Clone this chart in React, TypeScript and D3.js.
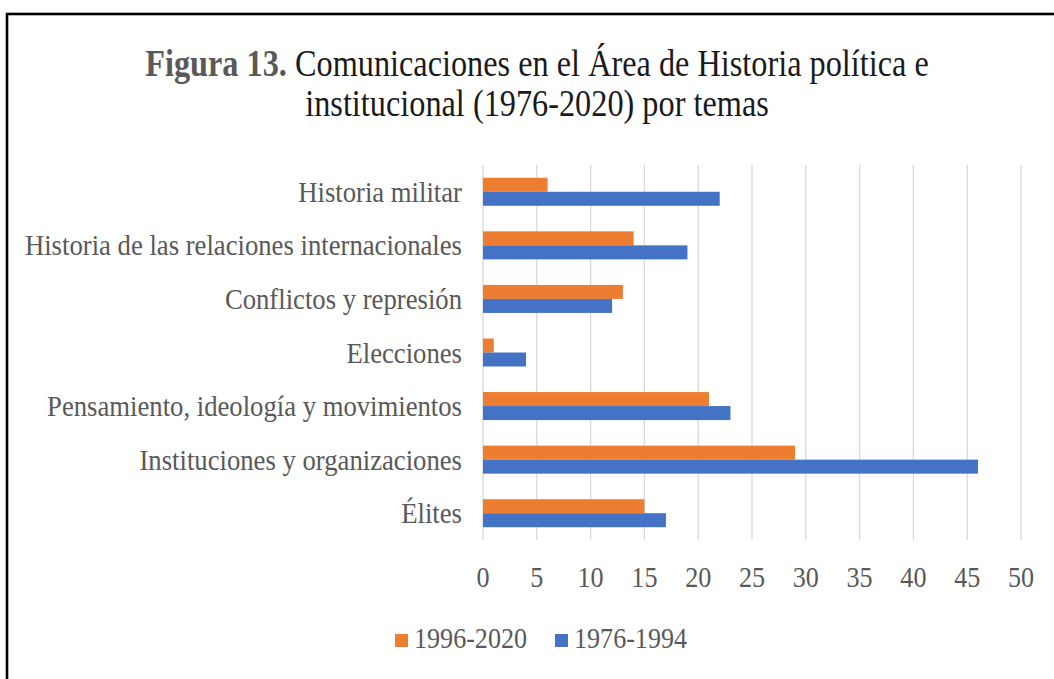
import React from "react";
import * as d3 from "d3";

const categories = [
  "Historia militar",
  "Historia de las relaciones internacionales",
  "Conflictos y represión",
  "Elecciones",
  "Pensamiento, ideología y movimientos",
  "Instituciones y organizaciones",
  "Élites",
];
const seriesNames = ["1996-2020", "1976-1994"];
const values1996_2020 = [6, 14, 13, 1, 21, 29, 15];
const values1976_1994 = [22, 19, 12, 4, 23, 46, 17];
const xTicks = [0, 5, 10, 15, 20, 25, 30, 35, 40, 45, 50];
const seriesColors = ["#ED7D31", "#4472C4"];

const W = 1054;
const H = 679;
const FONT = "'Liberation Serif', 'Times New Roman', serif";
const SX = 0.87;
const SX_LABEL = 0.89;

export default function App() {
  const x = d3.scaleLinear().domain([0, 50]).range([483, 1021]);
  const y = d3
    .scaleBand<string>()
    .domain(categories)
    .range([165, 540])
    .paddingInner(0.4773)
    .paddingOuter(0.4773 / 2);
  const sub = d3.scaleBand<string>().domain(seriesNames).range([0, y.bandwidth()]);
  const seriesValues = [values1996_2020, values1976_1994];

  return (
    <svg
      width={W}
      height={H}
      style={{ position: "absolute", left: 0, top: 0, background: "#fff" }}
      fontFamily={FONT}
    >
      <rect x={0} y={0} width={W} height={H} fill="#fff" />
      <rect x={7} y={14} width={W + 20} height={H + 20} fill="none" stroke="#000" strokeWidth={2.6} />

      {/* title */}
      <g transform={`translate(537,76) scale(0.85,1)`}>
        <text textAnchor="middle" fontSize={38} fill="#1a1a1a">
          <tspan fontWeight="bold" fill="#595959">Figura 13.</tspan>
          <tspan> Comunicaciones en el Área de Historia política e</tspan>
        </text>
      </g>
      <g transform={`translate(537,116) scale(0.85,1)`}>
        <text textAnchor="middle" fontSize={38} fill="#1a1a1a">
          institucional (1976-2020) por temas
        </text>
      </g>

      {/* gridlines */}
      {xTicks.map((t) => (
        <line key={t} x1={x(t)} x2={x(t)} y1={165} y2={540} stroke="#D9D9D9" strokeWidth={1.3} />
      ))}

      {/* bars */}
      {categories.map((c, i) =>
        seriesNames.map((s, j) => (
          <rect
            key={c + s}
            x={x(0)}
            y={(y(c) ?? 0) + (sub(s) ?? 0)}
            width={x(seriesValues[j][i]) - x(0)}
            height={sub.bandwidth()}
            fill={seriesColors[j]}
          />
        ))
      )}

      {/* category labels */}
      {categories.map((c) => (
        <g key={c} transform={`translate(462,${(y(c) ?? 0) + y.bandwidth() / 2 + 10}) scale(${SX_LABEL},1)`}>
          <text textAnchor="end" fontSize={30} fill="#595959">
            {c}
          </text>
        </g>
      ))}

      {/* x tick labels */}
      {xTicks.map((t) => (
        <g key={t} transform={`translate(${x(t)},587) scale(${SX},1)`}>
          <text textAnchor="middle" fontSize={30} fill="#595959">
            {t}
          </text>
        </g>
      ))}

      {/* legend */}
      {seriesNames.map((s, j) => {
        const lx = j === 0 ? 395 : 555;
        return (
          <g key={s}>
            <rect x={lx} y={634} width={13} height={13} fill={seriesColors[j]} />
            <g transform={`translate(${lx + 19},648) scale(${SX},1)`}>
              <text fontSize={30} fill="#595959">
                {s}
              </text>
            </g>
          </g>
        );
      })}
    </svg>
  );
}
